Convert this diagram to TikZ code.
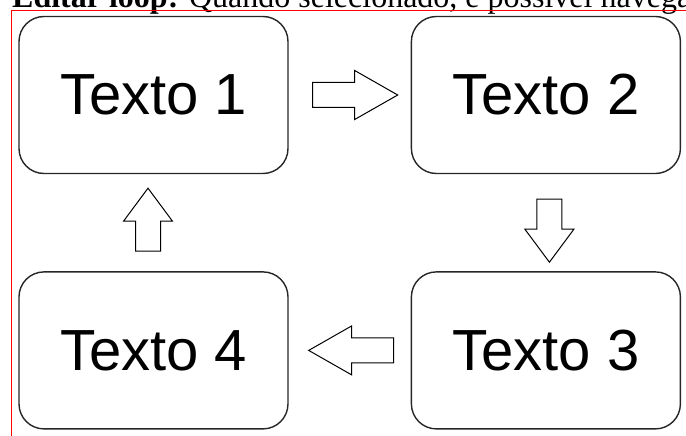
\documentclass[tikz,border=0pt]{standalone}
\usepackage{fontspec}
\setmainfont{Liberation Serif}
\newfontfamily\boxfont{Liberation Sans}
\usetikzlibrary{positioning,calc}

\newcommand{\hollowarrow}[4]{%
  \draw[arrowline,shift={(#1)},rotate=#2]
    (-#3,-12.5) -- (0,-12.5) -- (0,-24.5) -- (#4,0) -- (0,24.5) -- (0,12.5) -- (-#3,12.5) -- cycle;}

\begin{document}
\begin{tikzpicture}[
      x=1pt,y=-1pt,
      box/.style={rectangle,draw=black!85,line width=1.4pt,rounded corners=25pt,
        minimum width=269pt,minimum height=157pt,inner sep=0pt,
        font=\boxfont\fontsize{58}{58}\selectfont},
      arrowline/.style={draw=black,line width=1pt,fill=white,line join=miter}
      ]
      \useasboundingbox (0,0) rectangle (686,436);

      % caption line, cut by the page
      \node[anchor=base west,inner sep=0pt,font=\fontsize{32}{32}\selectfont] (caption) at (12,8)
        {\textbf{Editar loop:} Quando selecionado, é possível navega};
      \draw[red,line width=1pt] (11.5,436) -- (11.5,10.5) -- (686,10.5);

      \node[box] at (153.5,95) (t1) {Texto 1};
      \node[box,right=122pt of t1] (t2) {Texto 2};
      \node[box,below=97pt of t2] (t3) {Texto 3};
      \node[box,below=97pt of t1] (t4) {Texto 4};

      \coordinate (a12) at ([xshift=66pt]t1.east);
      \coordinate (a23) at ([xshift=3.5pt,yshift=-55pt]t2.south);
      \coordinate (a34) at ([xshift=63pt]t4.east);
      \coordinate (a41) at ([xshift=-5.5pt,yshift=-47pt]t1.south);

      \hollowarrow{a12}{0}{42}{43}
      \hollowarrow{a23}{-90}{30}{33}
      \hollowarrow{a34}{180}{42}{43}
      \hollowarrow{a41}{90}{30}{33}

    \end{tikzpicture}
\end{document}
